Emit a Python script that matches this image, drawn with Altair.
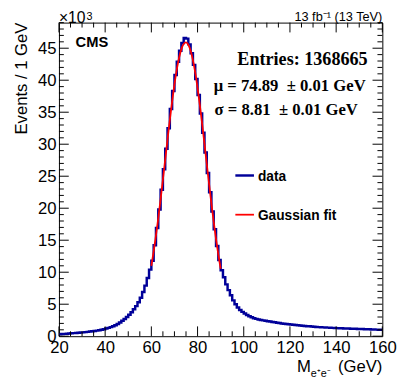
import altair as alt
import pandas as pd

# ---- data (events in thousands, 1 GeV bins) ----
mass_low = list(range(20, 160))  # lower bin edges (GeV)
events_k = [
    0.30, 0.33, 0.36, 0.39, 0.42, 0.45, 0.48, 0.51, 0.54, 0.57,
    0.60, 0.64, 0.68, 0.72, 0.76, 0.81, 0.87, 0.93, 1.00, 1.08,
    1.20, 1.30, 1.42, 1.56, 1.72, 1.92, 2.15, 2.40, 2.68, 3.00,
    3.35, 3.75, 4.20, 4.70, 5.30, 6.00, 6.90, 7.90, 9.10, 10.4,
    11.8, 14.2, 16.9, 19.8, 22.9, 26.1, 29.3, 32.5, 35.5, 38.3,
    40.8, 42.9, 44.6, 45.8, 46.6, 46.5, 45.6, 44.2, 42.4, 40.2,
    37.7, 34.8, 31.8, 28.7, 25.5, 22.5, 19.5, 16.7, 14.1, 11.9,
    10.3, 9.2, 8.1, 7.2, 6.4, 5.6, 5.0, 4.5, 4.1, 3.8,
    3.55, 3.32, 3.12, 2.95, 2.82, 2.71, 2.62, 2.54, 2.47, 2.41,
    2.35, 2.29, 2.23, 2.17, 2.11, 2.05, 2.00, 1.95, 1.91, 1.87,
    1.83, 1.79, 1.75, 1.71, 1.67, 1.63, 1.60, 1.57, 1.54, 1.51,
    1.48, 1.45, 1.42, 1.40, 1.38, 1.36, 1.34, 1.32, 1.30, 1.28,
    1.26, 1.24, 1.23, 1.21, 1.20, 1.19, 1.17, 1.16, 1.15, 1.14,
    1.13, 1.12, 1.10, 1.09, 1.08, 1.06, 1.05, 1.03, 1.02, 1.00,
]
fit_mass = list(range(60, 91))
fit_k = [
    11.0, 13.25, 15.74, 18.46, 21.38, 24.45, 27.59, 30.74, 33.81, 36.71,
    39.35, 41.64, 43.50, 44.86, 45.67, 45.90, 45.54, 44.60, 43.13, 41.17,
    38.79, 36.09, 33.14, 30.05, 26.89, 23.76, 20.72, 17.85, 15.17, 12.73,
    10.54,
]
x_major = [20, 40, 60, 80, 100, 120, 140, 160]
x_minor = [25, 30, 35, 45, 50, 55, 65, 70, 75, 85, 90, 95, 105, 110, 115,
           125, 130, 135, 145, 150, 155]
y_major = [0, 5, 10, 15, 20, 25, 30, 35, 40, 45]
y_minor = [v for v in range(1, 50) if v % 5 != 0]

W, H = 330, 320
SANS = "Liberation Sans"
SERIF = "Liberation Serif"
BLUE = "#000099"
RED = "#ff0000"

xs = alt.Scale(domain=[20, 160], nice=False, zero=False)
ys = alt.Scale(domain=[0, 49], nice=False, zero=True)

xaxis = alt.Axis(values=x_major, title=None, ticks=False, domain=False, grid=False,
                 labelFontSize=17, labelFont=SANS, labelColor="black", labelPadding=4,
                 labelFlush=False, labelOverlap=False, format="d")
yaxis = alt.Axis(values=y_major, title=None, ticks=False, domain=False, grid=False,
                 labelFontSize=17, labelFont=SANS, labelColor="black", labelPadding=3,
                 labelFlush=False, labelOverlap=False, format="d")


def X(field):
    return alt.X(field, scale=xs, axis=xaxis)


def Y(field):
    return alt.Y(field, scale=ys, axis=yaxis)


hist_df = pd.DataFrame({"mass": mass_low + [160], "ev": events_k + [events_k[-1]]})
hist = alt.Chart(hist_df).mark_line(
    interpolate="step-after", color=BLUE, strokeWidth=2.5
).encode(x=X("mass:Q"), y=Y("ev:Q"))

fit_df = pd.DataFrame({"mass": fit_mass, "ev": fit_k})
fit = alt.Chart(fit_df).mark_line(interpolate="monotone", color=RED, strokeWidth=1.8).encode(
    x=X("mass:Q"), y=Y("ev:Q"))


def xticks(vals, length, top):
    df = pd.DataFrame({"v": vals})
    if top:
        yy, yy2 = 0, length
    else:
        yy, yy2 = H, H - length
    return alt.Chart(df).mark_rule(color="black", strokeWidth=1).encode(
        x=X("v:Q"), y=alt.value(yy), y2=alt.value(yy2))


def yticks(vals, length, right):
    df = pd.DataFrame({"v": vals})
    if right:
        xx, xx2 = W, W - length
    else:
        xx, xx2 = 0, length
    return alt.Chart(df).mark_rule(color="black", strokeWidth=1).encode(
        y=Y("v:Q"), x=alt.value(xx), x2=alt.value(xx2))


ticks = [
    xticks(x_major, 10, False), xticks(x_minor, 5, False),
    xticks(x_major, 10, True), xticks(x_minor, 5, True),
    yticks(y_major, 10, False), yticks(y_minor, 5, False),
    yticks(y_major, 10, True), yticks(y_minor, 5, True),
]

one = pd.DataFrame({"a": [0]})


def label(text, x, y, size, font=SANS, weight="normal", align="left", angle=0, color="black"):
    kw = dict(text=text, font=font, fontSize=size, fontWeight=weight, align=align,
              baseline="alphabetic", color=color)
    if angle:
        kw["angle"] = angle
    return alt.Chart(one).mark_text(**kw).encode(x=alt.value(x), y=alt.value(y))


texts = [
    label("×10", 0, 0.5, 16),
    label("3", 28, -3, 11),
    label("13 fb⁻¹ (13 TeV)", 330, -2, 13, align="right"),
    label("CMS", 17, 25, 15, weight="bold"),
    label("Entries: 1368665", 315, 43, 18.5, font=SERIF, weight="bold", align="right"),
    label("μ = 74.89\u00a0\u00a0± 0.01 GeV", 313, 70, 17, font=SERIF, weight="bold", align="right"),
    label("σ = 8.81\u00a0\u00a0± 0.01 GeV", 305, 94.5, 17, font=SERIF, weight="bold", align="right"),
    label("data", 203, 161.5, 14, weight="bold"),
    label("Gaussian fit", 203, 201.5, 14, weight="bold"),
    label("Events / 1 GeV", -33, 0, 17, align="right", angle=270),
    label("M", 243, 357, 17),
    label("e⁺e⁻", 257, 362, 11),
    label("(GeV)", 330, 357, 17, align="right"),
]

legend_lines = [
    alt.Chart(one).mark_rule(color=BLUE, strokeWidth=2.5).encode(
        x=alt.value(180), x2=alt.value(199), y=alt.value(156)),
    alt.Chart(one).mark_rule(color=RED, strokeWidth=1.8).encode(
        x=alt.value(180), x2=alt.value(199), y=alt.value(196)),
]

chart = alt.layer(hist, fit, *ticks, *legend_lines, *texts).properties(
    width=W, height=H,
    autosize=alt.AutoSizeParams(type="none"),
    padding={"left": 52, "top": 11, "right": 17, "bottom": 52},
    background="white",
).configure_view(stroke="black", strokeWidth=1)

chart.save("out.html", embed_options={"renderer": "svg", "actions": False})
